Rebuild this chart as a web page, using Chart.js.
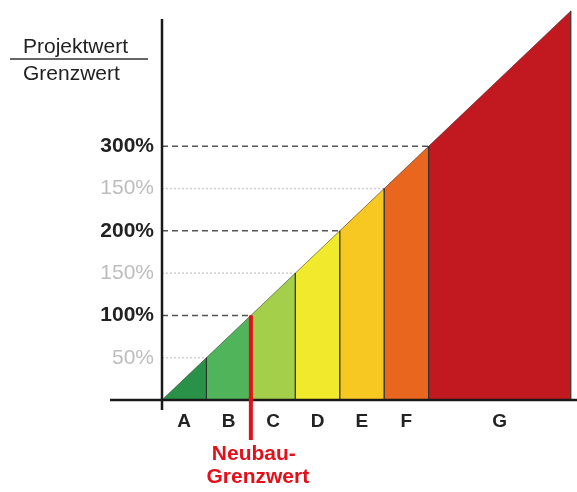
<!DOCTYPE html>
<html>
<head>
<meta charset="utf-8">
<script src="https://cdn.jsdelivr.net/npm/chart.js@4.4.1/dist/chart.umd.min.js"></script>
<style>
  html, body { margin: 0; padding: 0; background: #fff; }
  #wrap { width: 577px; height: 492px; }
</style>
</head>
<body>
<div id="wrap"><canvas id="chart" width="577" height="492"></canvas></div>
<script>
// energy classes and their upper edges (project value / limit value, in %)
const classes = ['A', 'B', 'C', 'D', 'E', 'F', 'G'];
const classEdges = [0, 50, 100, 150, 200, 250, 300, 460];
const classColors = ['#2a9248', '#50b45a', '#a4cf4a', '#f1e92b', '#f7c822', '#e8661e', '#c1191f'];

const yTicks = [50, 100, 150, 200, 250, 300];
const yTickLabels = ['50%', '100%', '150%', '200%', '150%', '300%'];
const yTickMajor = [false, true, false, true, false, true];

const newBuildLimit = 100; // Neubau-Grenzwert

const FONT = "'Liberation Sans', Arial, sans-serif";

// red marker first so it is drawn on top
const datasets = [{
  data: [{ x: newBuildLimit, y: 0 }, { x: newBuildLimit, y: newBuildLimit }],
  borderColor: '#e3101a',
  borderWidth: 4,
  pointRadius: 0,
  fill: false
}];

classes.forEach((c, i) => {
  const a = classEdges[i], b = classEdges[i + 1];
  datasets.push({
    label: c,
    data: [{ x: a, y: 0 }, { x: a, y: a }, { x: b, y: b }, { x: b, y: 0 }],
    fill: 'origin',
    backgroundColor: classColors[i],
    borderColor: 'rgba(40,40,40,0.55)',
    borderWidth: 1,
    pointRadius: 0
  });
});

// dashed / dotted helper lines from the axis to the diagonal
yTicks.forEach((v, i) => {
  datasets.push({
    data: [{ x: 0, y: v }, { x: v, y: v }],
    borderColor: yTickMajor[i] ? '#555' : '#cfcfcf',
    borderWidth: 1.5,
    borderDash: yTickMajor[i] ? [6, 4] : [2, 2],
    pointRadius: 0,
    fill: false
  });
});

const decor = {
  id: 'decor',
  afterDatasetsDraw(chart) {
    const { ctx, scales: { x, y } } = chart;
    const x0 = x.getPixelForValue(0);
    const y0 = y.getPixelForValue(0);
    ctx.save();

    // axes
    ctx.strokeStyle = '#1a1a1a';
    ctx.lineWidth = 2.5;
    ctx.beginPath();
    ctx.moveTo(x0 - 52, y0);
    ctx.lineTo(x.right, y0);
    ctx.moveTo(x0, 19);
    ctx.lineTo(x0, y0 + 10);
    ctx.stroke();

    // leader of the red marker + its label
    const rx = x.getPixelForValue(newBuildLimit);
    ctx.strokeStyle = '#e3101a';
    ctx.lineWidth = 4;
    ctx.beginPath();
    ctx.moveTo(rx, y0 - 3);
    ctx.lineTo(rx, y0 + 40);
    ctx.stroke();

    ctx.fillStyle = '#e3101a';
    ctx.font = 'bold 21px ' + FONT;
    ctx.textAlign = 'center';
    ctx.textBaseline = 'alphabetic';
    ctx.fillText('Neubau-', rx + 3, y0 + 60);
    ctx.fillText('Grenzwert', rx + 7, y0 + 83);

    // axis caption as a fraction
    ctx.fillStyle = '#222';
    ctx.font = '21px ' + FONT;
    ctx.textAlign = 'left';
    ctx.fillText('Projektwert', 23, 53);
    ctx.fillText('Grenzwert', 23, 80);
    ctx.strokeStyle = '#333';
    ctx.lineWidth = 1.5;
    ctx.beginPath();
    ctx.moveTo(10, 59);
    ctx.lineTo(148, 59);
    ctx.stroke();

    ctx.restore();
  }
};

new Chart(document.getElementById('chart'), {
  type: 'line',
  data: { datasets },
  options: {
    responsive: false,
    animation: false,
    layout: { padding: 0 },
    plugins: { legend: { display: false }, tooltip: { enabled: false } },
    scales: {
      x: {
        type: 'linear',
        min: 0,
        max: 467,
        afterFit: (s) => {
          s.height = 92;
          s.paddingLeft = 0;
          s.paddingRight = 0;
        },
        afterBuildTicks: (s) => {
          s.ticks = classes.map((c, i) => ({ value: (classEdges[i] + classEdges[i + 1]) / 2 }));
        },
        ticks: {
          autoSkip: false,
          maxRotation: 0,
          padding: 10,
          color: '#222',
          font: { family: FONT, size: 19, weight: 'bold' },
          callback: (v, i) => classes[i]
        },
        grid: { display: false, drawTicks: false },
        border: { display: false }
      },
      y: {
        min: 0,
        max: 473,
        afterFit: (s) => {
          s.width = 162;
          s.paddingTop = 0;
          s.paddingBottom = 0;
        },
        afterBuildTicks: (s) => { s.ticks = yTicks.map(v => ({ value: v })); },
        ticks: {
          padding: 8,
          color: (c) => yTickMajor[c.index] ? '#222' : '#bdbdbd',
          font: (c) => ({ family: FONT, size: 21, weight: yTickMajor[c.index] ? 'bold' : 'normal' }),
          callback: (v, i) => yTickLabels[i]
        },
        grid: { display: false, drawTicks: false },
        border: { display: false }
      }
    }
  },
  plugins: [decor]
});
</script>
</body>
</html>
